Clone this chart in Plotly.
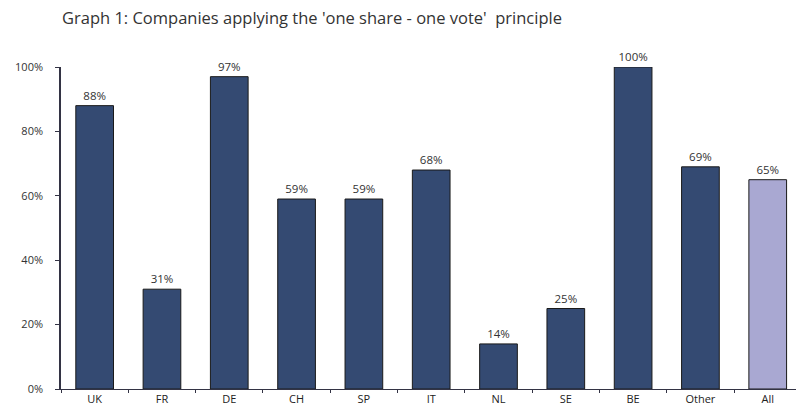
import plotly.graph_objects as go

categories = ["UK", "FR", "DE", "CH", "SP", "IT", "NL", "SE", "BE", "Other", "All"]
values = [88, 31, 97, 59, 59, 68, 14, 25, 100, 69, 65]
labels = [f"{v}%" for v in values]
colors = ["#344a72"] * 10 + ["#a9a8d2"]

fig = go.Figure()
fig.add_trace(go.Bar(
    x=categories, y=[v / 100 for v in values],
    marker=dict(color=colors, line=dict(color="#1a1a1a", width=1)),
    width=0.56,
    text=labels, textposition="outside", cliponaxis=False,
    textfont=dict(size=11.5, color="#333333", family="Open Sans"),
))
fig.update_layout(
    width=796, height=410,
    margin=dict(l=61, r=0, t=67, b=21),
    paper_bgcolor="white", plot_bgcolor="white",
    showlegend=False,
    title=dict(text="Graph 1: Companies applying the 'one share - one vote'  principle",
               x=62 / 796, xanchor="left", y=1 - 18 / 410, yanchor="middle",
               font=dict(size=16.5, color="#333333", family="Open Sans")),
    xaxis=dict(range=[-0.5, 10.42], showline=True, linecolor="#333344", linewidth=1,
               ticks="outside", tickson="boundaries", ticklen=3, tickcolor="#333344",
               tickfont=dict(size=11, color="#222222", family="Open Sans"),
               showgrid=False, fixedrange=True),
    yaxis=dict(range=[0, 1], tickvals=[0, 0.2, 0.4, 0.6, 0.8, 1.0],
               ticktext=["0%", "20%", "40%", "60%", "80%", "100%"],
               showline=True, linecolor="#333344", linewidth=1.5,
               ticks="outside", ticklen=4, tickcolor="#333344",
               ticklabelstandoff=10,
               tickfont=dict(size=11, color="#333333", family="Open Sans"),
               showgrid=False, zeroline=False),
)
fig.write_html("out.html")
